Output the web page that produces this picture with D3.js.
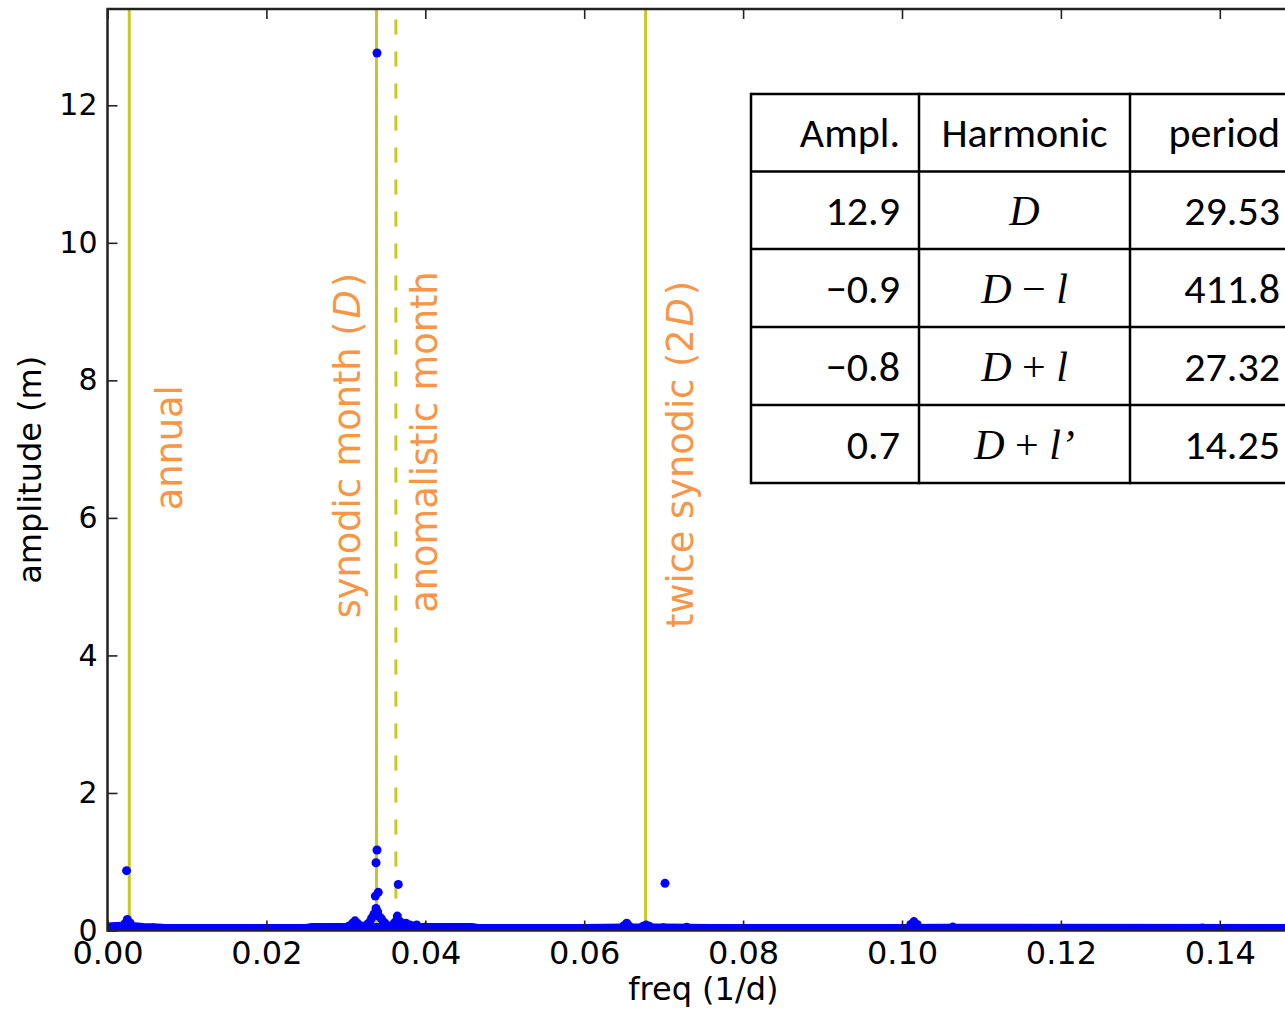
<!DOCTYPE html>
<html>
<head>
<meta charset="utf-8">
<script src="https://cdn.jsdelivr.net/npm/d3@7"></script>
<style>
  html, body { margin: 0; padding: 0; background: #ffffff; overflow: hidden; }
  svg { display: block; }
</style>
</head>
<body>
<svg id="chart" width="1285" height="1010"></svg>
<script>
// ---- amplitude spectrum: low-level floor of the periodogram ----
const floorFreq = [0.0000, 0.0010, 0.0020, 0.0030, 0.0045, 0.0070, 0.0150, 0.0250, 0.0256, 0.0300, 0.0400, 0.0460, 0.0466, 0.0600, 0.0650, 0.0700, 0.0760, 0.1000, 0.1050, 0.1500];
const floorAmp  = [0.060,  0.065,  0.070,  0.065,  0.050,  0.040,  0.036,  0.036,  0.050,  0.052,  0.052,  0.050,  0.036,  0.036,  0.044,  0.044,  0.036,  0.036,  0.040,  0.036];

// ---- spectral points standing above the floor ----
const peakFreq = [
  0.00240, 0.00220, 0.00250, 0.00285, 0.00195, 0.00310, 0.00577,
  0.03392, 0.03392, 0.03380, 0.03408, 0.03371, 0.03380, 0.03401, 0.03354, 0.03413,
  0.03325, 0.03442, 0.03304, 0.03464, 0.03275, 0.03493, 0.03200, 0.03556,
  0.03115, 0.03086, 0.03144, 0.03040,
  0.03660, 0.03648, 0.03640, 0.03682, 0.03610, 0.03713,
  0.03757, 0.03807, 0.03892, 0.03870, 0.04000,
  0.07017, 0.06535, 0.06500, 0.06560, 0.06778, 0.06740, 0.06820, 0.06996, 0.07290,
  0.10150, 0.10110, 0.10190, 0.10640, 0.13780
];
const peakAmp = [
  0.870, 0.100, 0.160, 0.110, 0.050, 0.050, 0.040,
  12.76, 1.170, 0.986, 0.555, 0.500, 0.320, 0.270, 0.240, 0.210,
  0.180, 0.180, 0.130, 0.140, 0.095, 0.105, 0.065, 0.065,
  0.140, 0.105, 0.105, 0.065,
  0.670, 0.210, 0.150, 0.130, 0.110, 0.087,
  0.105, 0.080, 0.080, 0.065, 0.050,
  0.686, 0.105, 0.070, 0.070, 0.080, 0.060, 0.060, 0.040, 0.047,
  0.130, 0.087, 0.087, 0.050, 0.035
];

// ---- reference frequencies (1/d) ----
const refNames = ["annual", "synodic", "anomalistic", "twiceSynodic"];
const refFreq  = [0.00274, 0.03386, 0.03630, 0.06773];

// ---- rotated annotations: text pieces [text, italic] and anchor (freq, amplitude) ----
const noteParts = [
  [["annual", false]],
  [["synodic month (", false], ["D", true], [")", false]],
  [["anomalistic month", false]],
  [["twice synodic (2", false], ["D", true], [")", false]]
];
const noteFreq = [0.00938, 0.03178, 0.04148, 0.07370];
const noteAmp  = [6.11, 4.54, 4.62, 4.40];

// ---- axes ----
const xTicks = [0.00, 0.02, 0.04, 0.06, 0.08, 0.10, 0.12, 0.14];
const yTicks = [0, 2, 4, 6, 8, 10, 12];
const xLabel = "freq (1/d)";
const yLabel = "amplitude (m)";

// ---- harmonic table ----
const tableHeader   = ["Ampl.", "Harmonic", "period"];
const tableAmpl     = ["12.9", "\u22120.9", "\u22120.8", "0.7"];
const tableHarmonic = [
  [["D", true]],
  [["D", true], [" \u2212 ", false], ["l", true]],
  [["D", true], [" + ", false], ["l", true]],
  [["D", true], [" + ", false], ["l\u2019", true]]
];
const tablePeriod   = ["29.53", "411.8", "27.32", "14.25"];

// ================= drawing =================
const svg = d3.select("#chart");
const plot = { left: 107.5, top: 9, right: 1299.25, bottom: 930.5 };

const x = d3.scaleLinear().domain([0, 0.15]).range([plot.left, plot.right]);
const y = d3.scaleLinear().domain([0, 13.4]).range([plot.bottom, plot.top]);

const mplFont = "'DejaVu Sans', 'Liberation Sans', sans-serif";
const lineColor = "#c8c824";
const noteColor = "#f79646";
const dotColor = "#0000ff";

svg.append("rect").attr("width", 1285).attr("height", 1010).attr("fill", "#ffffff");

svg.append("defs").append("clipPath").attr("id", "plotClip")
  .append("rect")
  .attr("x", plot.left).attr("y", plot.top)
  .attr("width", plot.right - plot.left).attr("height", plot.bottom - plot.top);

const data = svg.append("g").attr("clip-path", "url(#plotClip)");

// reference lines
const refStyle = {
  annual:       { dash: null },
  synodic:      { dash: null },
  anomalistic:  { dash: "15,17" },
  twiceSynodic: { dash: null }
};
data.selectAll("line.ref")
  .data(refNames.map((n, i) => ({ name: n, f: refFreq[i] })))
  .join("line")
  .attr("class", "ref")
  .attr("x1", d => x(d.f)).attr("x2", d => x(d.f))
  .attr("y1", y(0)).attr("y2", y(13.4))
  .attr("stroke", lineColor)
  .attr("stroke-width", 3)
  .attr("stroke-dasharray", d => refStyle[d.name].dash);

// spectrum floor
const floorPts = floorFreq.map((f, i) => [f, floorAmp[i]]);
data.append("path")
  .datum(floorPts)
  .attr("d", d3.line().x(d => x(d[0])).y(d => y(d[1])))
  .attr("fill", "none")
  .attr("stroke", dotColor)
  .attr("stroke-width", 8)
  .attr("stroke-linejoin", "round");

// spectral points
data.selectAll("circle.pk")
  .data(peakFreq.map((f, i) => [f, peakAmp[i]]))
  .join("circle")
  .attr("class", "pk")
  .attr("cx", d => x(d[0]))
  .attr("cy", d => y(d[1]))
  .attr("r", 4.5)
  .attr("fill", dotColor);

// axes (ticks point inward)
const axisColor = "#222222";
function styleAxis(size) {
  return g => {
    g.select(".domain").remove();
    g.selectAll(".tick line").attr("stroke", axisColor).attr("stroke-width", 1.6);
    g.selectAll(".tick text").attr("fill", "#000").style("font-family", mplFont).style("font-size", size + "px");
  };
}
svg.append("g").attr("transform", `translate(0,${plot.bottom})`)
  .call(d3.axisBottom(x).tickValues(xTicks).tickFormat(d3.format(".2f")).tickSize(-10).tickPadding(11))
  .call(styleAxis(32));
svg.append("g").attr("transform", `translate(0,${plot.top})`)
  .call(d3.axisTop(x).tickValues(xTicks).tickFormat("").tickSize(-10))
  .call(styleAxis(30));
svg.append("g").attr("transform", `translate(${plot.left},0)`)
  .call(d3.axisLeft(y).tickValues(yTicks).tickFormat(d3.format("d")).tickSize(-10).tickPadding(10))
  .call(styleAxis(30));
svg.append("g").attr("transform", `translate(${plot.right},0)`)
  .call(d3.axisRight(y).tickValues(yTicks).tickFormat("").tickSize(-10))
  .call(styleAxis(30));

// frame
svg.append("rect")
  .attr("x", plot.left).attr("y", plot.top)
  .attr("width", plot.right - plot.left).attr("height", plot.bottom - plot.top)
  .attr("fill", "none").attr("stroke", axisColor).attr("stroke-width", 2.5);

// axis titles
svg.append("text")
  .attr("x", (plot.left + plot.right) / 2).attr("y", 1000)
  .attr("text-anchor", "middle")
  .style("font-family", mplFont).style("font-size", "32px")
  .text(xLabel);
svg.append("text")
  .attr("transform", `translate(41,${(plot.top + plot.bottom) / 2}) rotate(-90)`)
  .attr("text-anchor", "middle")
  .style("font-family", mplFont).style("font-size", "32px")
  .text(yLabel);

// rotated annotations
noteParts.forEach((parts, i) => {
  const t = svg.append("text")
    .attr("transform", `translate(${x(noteFreq[i])},${y(noteAmp[i])}) rotate(-90)`)
    .attr("fill", noteColor)
    .style("font-family", mplFont).style("font-size", "36.7px");
  parts.forEach(([s, it], k) => {
    t.append("tspan")
      .attr("dx", k > 0 ? 3 : 0)
      .style("font-style", it ? "italic" : "normal")
      .text(s);
  });
});

// harmonic table
const tab = { cols: [751, 919, 1130, 1300], rows: [94, 171.5, 249, 327, 405, 483] };
const tabFont = "Calibri, Carlito, Lato, 'Open Sans', sans-serif";
const mathFont = "'Liberation Serif', 'DejaVu Serif', serif";
const tg = svg.append("g");
tg.append("rect")
  .attr("x", tab.cols[0]).attr("y", tab.rows[0])
  .attr("width", tab.cols[3] - tab.cols[0]).attr("height", tab.rows[5] - tab.rows[0])
  .attr("fill", "#ffffff");
tg.selectAll("line.h").data(tab.rows).join("line")
  .attr("x1", tab.cols[0]).attr("x2", tab.cols[3])
  .attr("y1", d => d).attr("y2", d => d)
  .attr("stroke", "#000").attr("stroke-width", 2.5);
tg.selectAll("line.v").data(tab.cols).join("line")
  .attr("y1", tab.rows[0] - 1.25).attr("y2", tab.rows[5] + 1.25)
  .attr("x1", d => d).attr("x2", d => d)
  .attr("stroke", "#000").attr("stroke-width", 2.5);

const rowMid = i => (tab.rows[i] + tab.rows[i + 1]) / 2;
const textShift = 14.5;
const cellSize = "42px";
// header
tg.append("text").attr("x", tab.cols[1] - 19).attr("y", rowMid(0) + textShift)
  .attr("text-anchor", "end").style("font-family", tabFont).style("font-size", cellSize)
  .text(tableHeader[0]);
tg.append("text").attr("x", (tab.cols[1] + tab.cols[2]) / 2).attr("y", rowMid(0) + textShift)
  .attr("text-anchor", "middle").style("font-family", tabFont).style("font-size", cellSize)
  .text(tableHeader[1]);
tg.append("text").attr("x", tab.cols[3] - 20).attr("y", rowMid(0) + textShift)
  .attr("text-anchor", "end").style("font-family", tabFont).style("font-size", cellSize)
  .text(tableHeader[2]);

tableAmpl.forEach((v, i) => {
  tg.append("text").attr("x", tab.cols[1] - 19).attr("y", rowMid(i + 1) + textShift)
    .attr("text-anchor", "end").style("font-family", tabFont).style("font-size", cellSize)
    .text(v);
  tg.append("text").attr("x", tab.cols[3] - 20).attr("y", rowMid(i + 1) + textShift)
    .attr("text-anchor", "end").style("font-family", tabFont).style("font-size", cellSize)
    .text(tablePeriod[i]);
  const h = tg.append("text").attr("x", (tab.cols[1] + tab.cols[2]) / 2).attr("y", rowMid(i + 1) + textShift)
    .attr("text-anchor", "middle").style("font-family", mathFont).style("font-size", "42px")
    .attr("xml:space", "preserve");
  tableHarmonic[i].forEach(([s, it]) => {
    h.append("tspan").style("font-style", it ? "italic" : "normal").text(s);
  });
});
</script>
</body>
</html>
